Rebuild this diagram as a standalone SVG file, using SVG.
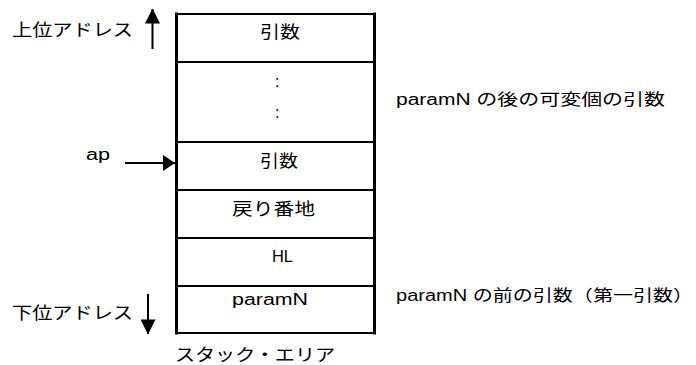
<svg xmlns="http://www.w3.org/2000/svg" width="696" height="365" viewBox="0 0 696 365">
<style>
text{font-family:"Liberation Sans","Noto Sans CJK JP",sans-serif;font-size:16px;fill:#000}
.j{font-size:17px}
.b{stroke:#000;fill:none}
.h{stroke-width:2}
.v{stroke-width:3}
.conn{stroke:#000;stroke-width:2;fill:none}
</style>
<defs>
<marker id="ah" viewBox="0 0 12 16" refX="12" refY="8" markerWidth="12" markerHeight="16" markerUnits="userSpaceOnUse" orient="auto"><path d="M0,0 L12,8 L0,16 Z" fill="#000"/></marker>
<marker id="av" viewBox="0 0 16 15" refX="15" refY="7.5" markerWidth="16" markerHeight="15" markerUnits="userSpaceOnUse" orient="auto"><path d="M0,0 L15,7.5 L0,15 Z" fill="#000" transform="translate(0.5,0)"/></marker>
</defs>
<g id="stack">
<line class="b v" x1="176.5" y1="12.5" x2="176.5" y2="334.5"/>
<line class="b v" x1="374.5" y1="12.5" x2="374.5" y2="334.5"/>
<line class="b h" x1="176" y1="14" x2="375" y2="14"/>
<line class="b h" x1="176" y1="62" x2="375" y2="62"/>
<line class="b h" x1="176" y1="142" x2="375" y2="142"/>
<line class="b h" x1="176" y1="190" x2="375" y2="190"/>
<line class="b h" x1="176" y1="238" x2="375" y2="238"/>
<line class="b h" x1="176" y1="286" x2="375" y2="286"/>
<line class="b h" x1="176" y1="333" x2="375" y2="333"/>
</g>
<g id="cell1"><text class="j" x="260" y="38" textLength="40" lengthAdjust="spacingAndGlyphs">引数</text></g>
<g id="cell2"><text x="275" y="87">:</text><text x="275" y="118">:</text></g>
<g id="cell3"><text class="j" x="260" y="167" textLength="38" lengthAdjust="spacingAndGlyphs">引数</text></g>
<g id="cell4"><text class="j" x="232" y="215" textLength="83" lengthAdjust="spacingAndGlyphs">戻り番地</text></g>
<g id="cell5"><text x="272" y="262" textLength="21" lengthAdjust="spacingAndGlyphs">HL</text></g>
<g id="cell6"><text x="232" y="305" textLength="76" lengthAdjust="spacingAndGlyphs">paramN</text></g>
<g id="label-upper"><text class="j" x="12" y="36" textLength="121" lengthAdjust="spacingAndGlyphs">上位アドレス</text></g>
<g id="label-lower"><text class="j" x="12" y="319" textLength="121" lengthAdjust="spacingAndGlyphs">下位アドレス</text></g>
<g id="label-ap"><text x="86" y="160" textLength="24" lengthAdjust="spacingAndGlyphs">ap</text></g>
<g id="label-area"><text class="j" x="175" y="361" textLength="160" lengthAdjust="spacingAndGlyphs">スタック・エリア</text></g>
<g id="label-after"><text x="396" y="105" textLength="269" lengthAdjust="spacingAndGlyphs">paramN の後の可変個の引数</text></g>
<g id="label-before"><text x="396" y="301" textLength="297" lengthAdjust="spacingAndGlyphs">paramN の前の引数（第一引数）</text></g>
<g id="connectors">
<line class="conn" x1="152.5" y1="49" x2="152.5" y2="9" marker-end="url(#av)"/>
<line class="conn" x1="148" y1="294" x2="148" y2="334" marker-end="url(#av)"/>
<line class="conn" x1="125" y1="163" x2="175" y2="163" marker-end="url(#ah)"/>
</g>
</svg>
